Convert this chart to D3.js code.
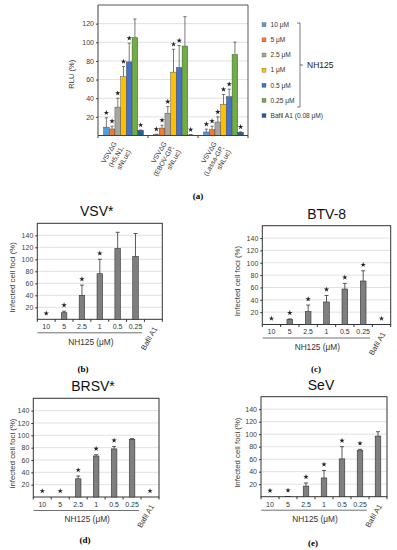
<!DOCTYPE html>
<html lang="en">
<head>
<meta charset="UTF-8">
<title>NH125 antiviral activity</title>
<script src="https://d3js.org/d3.v7.min.js"></script>
<style>
  body { margin: 0; background: #fff; }
  svg { display: block; font-family: "Liberation Sans", Arial, sans-serif; }
  .grid line { stroke: #d9d9d9; stroke-width: 0.8px; }
  .tick text { fill: #404040; }
  .panel-label { font-family: "Liberation Serif", "Times New Roman", serif; font-weight: bold; }
</style>
</head>
<body>
<div id="chart"></div>
<script>
// ---- panel (a): pseudotyped VSV, RLU (%)
const concLabels = ["10 \u03bcM", "5 \u03bcM", "2.5 \u03bcM", "1 \u03bcM", "0.5 \u03bcM", "0.25 \u03bcM", "Bafil A1 (0.08 \u03bcM)"];
const concColors = ["#5b9bd5", "#ed7d31", "#a5a5a5", "#ffc000", "#4472c4", "#70ad47", "#255e91"];
const pseudoLabels = [["VSV\u0394G", "(H5,N1,", "sNLuc)"], ["VSV\u0394G", "(EBOV-GP,", "sNLuc)"], ["VSV\u0394G", "(Lassa-GP,", "sNLuc)"]];
const rluMean = [[9, 7, 30.5, 63, 79, 105, 5.5], [1, 8, 24, 68, 73, 96, 0.6], [3.8, 6.2, 14.5, 33.5, 41.7, 87, 3.4]];
const rluErr = [[10, 3, 9.5, 11, 20, 20, 0.4], [0.4, 3, 7, 24.5, 23.5, 31.5, 0.3], [3, 3.8, 5.5, 10.5, 8, 13.2, 0.5]];
const rluStar = [[1, 1, 1, 1, 1, 0, 1], [1, 1, 1, 1, 1, 0, 1], [1, 1, 1, 1, 1, 0, 1]];
const rluTicks = [20, 40, 60, 80, 100, 120];

// ---- panels (b)-(e): infected cell foci (%)
const fociCategories = ["10", "5", "2.5", "1", "0.5", "0.25", "Bafil A1"];
const fociTicks = [20, 40, 60, 80, 100, 120, 140];
const vsvMean = [0, 11, 40, 76, 118, 105, null];
const vsvErr = [0, 2.5, 17, 24, 27, 38, null];
const vsvStar = [1, 1, 1, 1, 0, 0, 0];
const btvMean = [0, 8, 21, 36.5, 57.5, 70.5, 0];
const btvErr = [0, 1, 10.5, 10.5, 9, 16.5, 0];
const btvStar = [1, 1, 1, 1, 1, 1, 1];
const brsvMean = [0, 0, 29.5, 66.5, 78, 93.5, 0];
const brsvErr = [0, 0, 4.5, 2, 4, 1.2, 0];
const brsvStar = [1, 1, 1, 1, 1, 0, 1];
const sevMean = [0, 0.6, 17, 30, 60.5, 74, 97];
const sevErr = [0, 0, 5, 12, 19.5, 1.8, 7];
const sevStar = [1, 1, 1, 1, 1, 1, 0];

const width = 397, height = 550;
const svg = d3.select("#chart").append("svg").attr("width", width).attr("height", height);
const star = d3.symbol(d3.symbolStar, 9);

// ================= panel (a) =================
const aBox = { x0: 98, x1: 248, top: 5, bottom: 135.5 };
const yA = d3.scaleLinear().domain([0, 140]).range([aBox.bottom, aBox.top]);
const xA = d3.scaleBand().domain(d3.range(pseudoLabels.length)).range([aBox.x0, aBox.x1]);
const xConc = d3.scaleBand().domain(d3.range(concLabels.length)).range([5.5, 45.5]);
const gA = svg.append("g");

gA.append("g").attr("class", "grid")
  .selectAll("line").data(rluTicks).join("line")
  .attr("x1", aBox.x0).attr("x2", aBox.x1)
  .attr("y1", d => yA(d)).attr("y2", d => yA(d));

// frame: top and right border
gA.append("path")
  .attr("d", `M${aBox.x0},${aBox.top}H${aBox.x1}V${aBox.bottom}`)
  .attr("fill", "none").attr("stroke", "#595959").attr("stroke-width", 1);

const groups = gA.selectAll(".grp").data(rluMean).join("g")
  .attr("class", "grp")
  .attr("transform", (d, i) => `translate(${xA(i)},0)`);

groups.each(function(means, gi) {
  const g = d3.select(this);
  const rows = means.map((m, j) => ({ m, e: rluErr[gi][j], s: rluStar[gi][j], j }));
  g.selectAll("rect").data(rows).join("rect")
    .attr("x", d => xConc(d.j))
    .attr("width", xConc.bandwidth())
    .attr("y", d => yA(d.m))
    .attr("height", d => yA(0) - yA(d.m))
    .attr("fill", d => concColors[d.j])
    .attr("stroke", "#404040").attr("stroke-width", 0.4);
  g.selectAll(".err").data(rows).join("path")
    .attr("class", "err")
    .attr("d", d => {
      const cx = xConc(d.j) + xConc.bandwidth() / 2;
      const yt = yA(d.m + d.e);
      return `M${cx},${yA(d.m)}V${yt}M${cx - 1.6},${yt}H${cx + 1.6}`;
    })
    .attr("fill", "none").attr("stroke", "#404040").attr("stroke-width", 0.7);
  g.selectAll(".star").data(rows.filter(d => d.s)).join("path")
    .attr("class", "star")
    .attr("d", star)
    .attr("fill", "#222")
    .attr("transform", d => `translate(${xConc(d.j) + xConc.bandwidth() / 2},${yA(d.m + d.e) - 5})`);
});

gA.append("g")
  .attr("transform", `translate(${aBox.x0},0)`)
  .call(d3.axisLeft(yA).tickValues(rluTicks).tickSize(2).tickPadding(2))
  .call(g => g.select(".domain").remove())
  .call(g => g.selectAll("line").attr("stroke", "#404040"))
  .call(g => g.selectAll("text").attr("font-size", 7));
gA.append("line")
  .attr("x1", aBox.x0).attr("x2", aBox.x0).attr("y1", aBox.top).attr("y2", aBox.bottom)
  .attr("stroke", "#404040");
gA.append("line")
  .attr("x1", aBox.x0).attr("x2", aBox.x1).attr("y1", aBox.bottom).attr("y2", aBox.bottom)
  .attr("stroke", "#404040");
gA.selectAll(".gtick").data(d3.range(pseudoLabels.length + 1)).join("line")
  .attr("class", "gtick")
  .attr("x1", i => aBox.x0 + i * xA.step()).attr("x2", i => aBox.x0 + i * xA.step())
  .attr("y1", aBox.bottom).attr("y2", aBox.bottom + 2.5)
  .attr("stroke", "#404040");

// rotated group labels
gA.selectAll(".glabel").data(pseudoLabels).join("text")
  .attr("class", "glabel")
  .attr("transform", (d, i) => `translate(${xA(i) + xA.bandwidth() / 2 + 1},${aBox.bottom + 12}) rotate(-60)`)
  .attr("text-anchor", "end")
  .attr("font-size", 6.8)
  .attr("fill", "#333")
  .selectAll("tspan").data(d => d).join("tspan")
  .attr("x", 0)
  .attr("y", (d, k) => (k - 1) * 8.3)
  .text(d => d);

gA.append("text")
  .attr("transform", `translate(${aBox.x0 - 24},${(aBox.top + aBox.bottom) / 2 + 4}) rotate(-90)`)
  .attr("text-anchor", "middle")
  .attr("font-size", 7.5)
  .attr("fill", "#333")
  .text("RLU (%)");

// legend
const legend = gA.append("g").attr("transform", "translate(262,24.7)");
const legendRows = legend.selectAll("g").data(concLabels).join("g")
  .attr("transform", (d, i) => `translate(0,${i * 15.15})`);
legendRows.append("rect")
  .attr("x", 0).attr("y", -2).attr("width", 4).attr("height", 4)
  .attr("fill", (d, i) => concColors[i])
  .attr("stroke", "#404040").attr("stroke-width", 0.3);
legendRows.append("text")
  .attr("x", 8.5).attr("dy", "0.35em")
  .attr("font-size", 6.6)
  .attr("fill", "#333")
  .text(d => d);
legend.append("path")
  .attr("d", "M35,-1.7H38V82.3H35M38,40.3H41")
  .attr("fill", "none").attr("stroke", "#404040").attr("stroke-width", 0.7);
legend.append("text")
  .attr("x", 45).attr("y", 40.3).attr("dy", "0.35em")
  .attr("font-size", 8.5)
  .attr("fill", "#222")
  .text("NH125");

svg.append("text").attr("class", "panel-label")
  .attr("x", 198).attr("y", 199).attr("text-anchor", "middle")
  .attr("font-size", 9).text("(a)");

// ================= panels (b)-(e) =================
const panels = [
  { title: "VSV*", label: "(b)", mean: vsvMean, err: vsvErr, stars: vsvStar,
    box: { x0: 37.3, x1: 162.3, top: 223.3, bottom: 319.3 }, titleX: 96.7, yLabelX: 12, labelX: 83, labelY: 372 },
  { title: "BTV-8", label: "(c)", mean: btvMean, err: btvErr, stars: btvStar,
    box: { x0: 262.3, x1: 390.7, top: 225.7, bottom: 324.5 }, titleX: 326.7, yLabelX: 237, labelX: 316, labelY: 372 },
  { title: "BRSV*", label: "(d)", mean: brsvMean, err: brsvErr, stars: brsvStar,
    box: { x0: 33.3, x1: 159, top: 398.3, bottom: 497 }, titleX: 93, yLabelX: 12, labelX: 85, labelY: 543 },
  { title: "SeV", label: "(e)", mean: sevMean, err: sevErr, stars: sevStar,
    box: { x0: 261, x1: 387, top: 396.7, bottom: 496.7 }, titleX: 321, yLabelX: 237, labelX: 313, labelY: 546 }
];

panels.forEach(p => {
  const b = p.box;
  const g = svg.append("g");
  const x = d3.scaleBand().domain(fociCategories).range([b.x0, b.x1]).paddingInner(0.69).paddingOuter(0.345);
  const y = d3.scaleLinear().domain([0, 160]).range([b.bottom, b.top]);
  const rows = fociCategories.map((c, i) => ({ c, m: p.mean[i], e: p.err[i], s: p.stars[i] }));

  g.append("g").attr("class", "grid")
    .selectAll("line").data(fociTicks).join("line")
    .attr("x1", b.x0).attr("x2", b.x1)
    .attr("y1", d => y(d)).attr("y2", d => y(d));

  g.append("rect")
    .attr("x", b.x0).attr("y", b.top)
    .attr("width", b.x1 - b.x0).attr("height", b.bottom - b.top)
    .attr("fill", "none").attr("stroke", "#333").attr("stroke-width", 1);

  const valid = rows.filter(d => d.m != null && d.m > 0);
  g.selectAll(".bar").data(valid).join("rect")
    .attr("class", "bar")
    .attr("x", d => x(d.c)).attr("width", x.bandwidth())
    .attr("y", d => y(d.m)).attr("height", d => y(0) - y(d.m))
    .attr("fill", "#7f7f7f").attr("stroke", "#333").attr("stroke-width", 0.6);
  g.selectAll(".err").data(valid.filter(d => d.e > 0)).join("path")
    .attr("class", "err")
    .attr("d", d => {
      const cx = x(d.c) + x.bandwidth() / 2;
      const yt = y(d.m + d.e);
      return `M${cx},${y(d.m)}V${yt}M${cx - 2},${yt}H${cx + 2}`;
    })
    .attr("fill", "none").attr("stroke", "#333").attr("stroke-width", 0.8);
  g.selectAll(".star").data(rows.filter(d => d.s)).join("path")
    .attr("class", "star")
    .attr("d", star)
    .attr("fill", "#222")
    .attr("transform", d => `translate(${x(d.c) + x.bandwidth() / 2},${(d.m ? y(d.m + d.e) : y(0)) - 6})`);

  g.append("g")
    .attr("transform", `translate(${b.x0},0)`)
    .call(d3.axisLeft(y).tickValues(fociTicks).tickSize(2).tickPadding(2))
    .call(a => a.select(".domain").remove())
    .call(a => a.selectAll("line").attr("stroke", "#333"))
    .call(a => a.selectAll("text").attr("font-size", 7));

  // category boundary ticks
  g.selectAll(".ctick").data(d3.range(fociCategories.length + 1)).join("line")
    .attr("class", "ctick")
    .attr("x1", i => b.x0 + i * x.step()).attr("x2", i => b.x0 + i * x.step())
    .attr("y1", b.bottom).attr("y2", b.bottom + 2.5)
    .attr("stroke", "#333");

  const doses = fociCategories.slice(0, 6);
  g.selectAll(".dose").data(doses).join("text")
    .attr("class", "dose")
    .attr("x", d => x(d) + x.bandwidth() / 2)
    .attr("y", b.bottom + 7.5).attr("dy", "0.35em")
    .attr("text-anchor", "middle")
    .attr("font-size", 7)
    .attr("fill", "#333")
    .text(d => d);
  g.append("line")
    .attr("x1", x(doses[0]) - 6).attr("x2", x(doses[5]) + x.bandwidth() + 4)
    .attr("y1", b.bottom + 13.5).attr("y2", b.bottom + 13.5)
    .attr("stroke", "#333").attr("stroke-width", 0.7);
  g.append("text")
    .attr("x", (x(doses[0]) + x(doses[5]) + x.bandwidth()) / 2)
    .attr("y", b.bottom + 22.5).attr("dy", "0.35em")
    .attr("text-anchor", "middle")
    .attr("font-size", 8.3)
    .attr("fill", "#333")
    .text("NH125 (\u03bcM)");
  const last = fociCategories[6];
  g.append("text")
    .attr("transform", `translate(${x(last) + x.bandwidth() / 2 + 2},${b.bottom + 8}) rotate(-60)`)
    .attr("text-anchor", "end").attr("dy", "0.35em")
    .attr("font-size", 7.5)
    .attr("fill", "#333")
    .text(last);

  g.append("text")
    .attr("transform", `translate(${p.yLabelX},${(b.top + b.bottom) / 2 + 6}) rotate(-90)`)
    .attr("text-anchor", "middle").attr("dy", "0.35em")
    .attr("font-size", 7.8)
    .attr("fill", "#333")
    .text("Infected cell foci (%)");

  g.append("text")
    .attr("x", p.titleX).attr("y", b.top - 7)
    .attr("text-anchor", "middle")
    .attr("font-size", 14)
    .attr("fill", "#111")
    .text(p.title);

  g.append("text").attr("class", "panel-label")
    .attr("x", p.labelX).attr("y", p.labelY)
    .attr("text-anchor", "middle")
    .attr("font-size", 9)
    .text(p.label);
});
</script>
</body>
</html>
